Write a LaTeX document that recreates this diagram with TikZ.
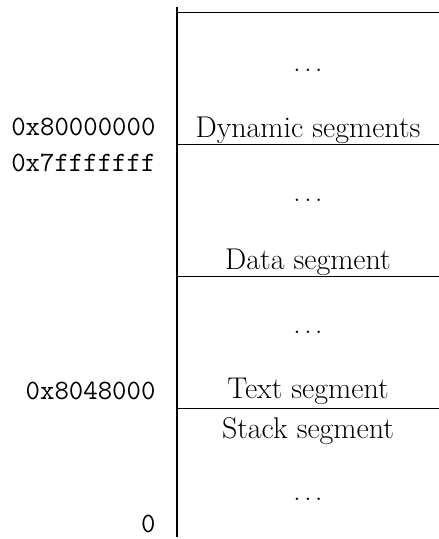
\documentclass[tikz,border=0pt]{standalone}
\tikzset{
  seg/.style={anchor=base, font=\fontsize{30}{36}\selectfont},
  addr/.style={anchor=base east, font=\fontsize{28}{34}\selectfont\ttfamily},
}
\begin{document}
\begin{tikzpicture}[x=1pt,y=-1pt]
\useasboundingbox (0,0) rectangle (439,539);
% address axis
\draw [line width=1.6pt] (177,7) -- (177,537);
\foreach \y in {12,144,276,408}
  \draw [line width=0.8pt] (177,\y) -- (439,\y);
% segments
\node (dots1) [seg] at (308,71) {$\ldots$};
\node (dyn) [seg] at (308,137) {Dynamic segments};
\node (dots2) [seg] at (308,201) {$\ldots$};
\node (data) [seg] at (308,269) {Data segment};
\node (dots3) [seg] at (308,333) {$\ldots$};
\node (text) [seg] at (308,398) {Text segment};
\node (stack) [seg] at (308,438) {Stack segment};
\node (dots4) [seg] at (308,500) {$\ldots$};
% addresses
\node (a1) [addr] at (159,135) {0x80000000};
\node (a2) [addr] at (159,171) {0x7fffffff};
\node (a3) [addr] at (159,399) {0x8048000};
\node (a4) [addr] at (159,532) {0};
\end{tikzpicture}
\end{document}
